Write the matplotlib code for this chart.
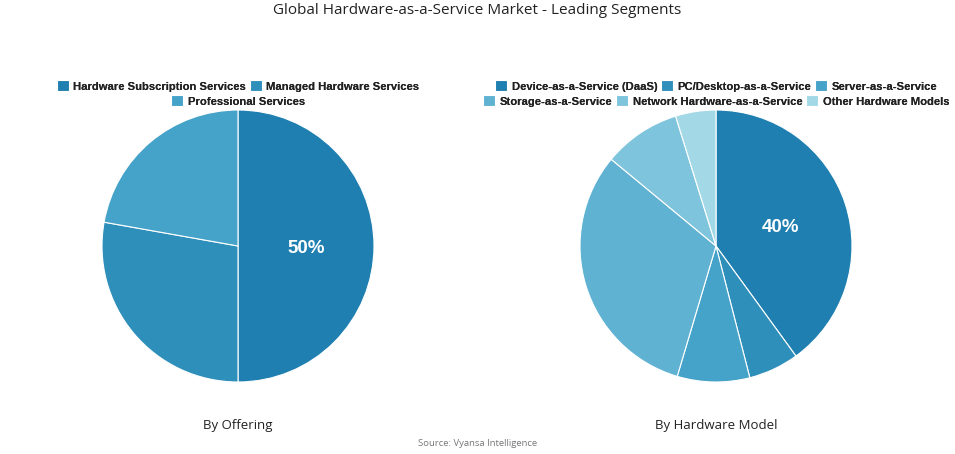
import matplotlib
matplotlib.use("Agg")
import matplotlib.pyplot as plt

title = "Global Hardware-as-a-Service Market - Leading Segments"
source = "Source: Vyansa Intelligence"

offering_labels = ["Hardware Subscription Services", "Managed Hardware Services", "Professional Services"]
offering_values = [50.0, 27.8, 22.2]
offering_colors = ["#1f7fb0", "#2e8fba", "#45a2c8"]

model_labels = ["Device-as-a-Service (DaaS)", "PC/Desktop-as-a-Service", "Server-as-a-Service",
                "Storage-as-a-Service", "Network Hardware-as-a-Service", "Other Hardware Models"]
model_values = [40.0, 6.0, 8.6, 31.4, 9.2, 4.8]
model_colors = ["#1f7fb0", "#2e8fba", "#45a2c8", "#60b2d2", "#7ec4dc", "#a3d8e6"]

W, H = 955, 454
fig = plt.figure(figsize=(W / 100, H / 100), dpi=100)
fig.patch.set_facecolor("white")

legend_font = {"family": "Liberation Sans", "weight": "bold", "size": 8.1}


def make_pie(cx, cy, r, values, colors, labels, subtitle, rows):
    ax = fig.add_axes([(cx - r) / W, 1 - (cy + r) / H, 2 * r / W, 2 * r / H])
    top = max(values)

    def fmt(p):
        return f"{p:.0f}%" if abs(p - top) < 0.5 else ""

    wedges, _, autotexts = ax.pie(values, colors=colors, startangle=90, counterclock=False,
                                  radius=1, autopct=fmt, pctdistance=0.5,
                                  wedgeprops=dict(edgecolor="white", linewidth=0.8),
                                  textprops=dict(color="white", fontsize=13.5, fontweight="bold",
                                                 family="Liberation Sans"))
    for t in autotexts:
        x, y = t.get_position()
        t.set_position((x, y - 0.015))
    ax.set_xlim(-1, 1)
    ax.set_ylim(-1, 1)
    ax.set_aspect("equal")
    ax.axis("off")
    fig.text(cx / W, 1 - 425 / H, subtitle, ha="center", va="center", fontsize=9.5,
             family="Open Sans", color="#222222")
    for (start, end), ry in zip(rows, [86, 101]):
        leg = fig.legend(wedges[start:end], labels[start:end], loc="center",
                         bbox_to_anchor=(cx / W, 1 - ry / H), ncol=end - start, frameon=False,
                         prop=legend_font, handlelength=1.1, handleheight=1.1,
                         handletextpad=0.4, columnspacing=0.3, borderpad=0, borderaxespad=0)
        for txt in leg.get_texts():
            txt.set_color("#222222")
        fig.add_artist(leg)
    return ax


make_pie(238, 246, 136, offering_values, offering_colors, offering_labels, "By Offering",
         [(0, 2), (2, 3)])
make_pie(716, 246, 136, model_values, model_colors, model_labels, "By Hardware Model",
         [(0, 3), (3, 6)])

fig.text(0.5, 1 - 10 / H, title, ha="center", va="center", fontsize=11, family="Open Sans",
         color="#222222")
fig.text(0.5, 1 - 444 / H, source, ha="center", va="center", fontsize=6.8, family="Open Sans",
         color="#777777")

fig.savefig("out.png", dpi=100)
